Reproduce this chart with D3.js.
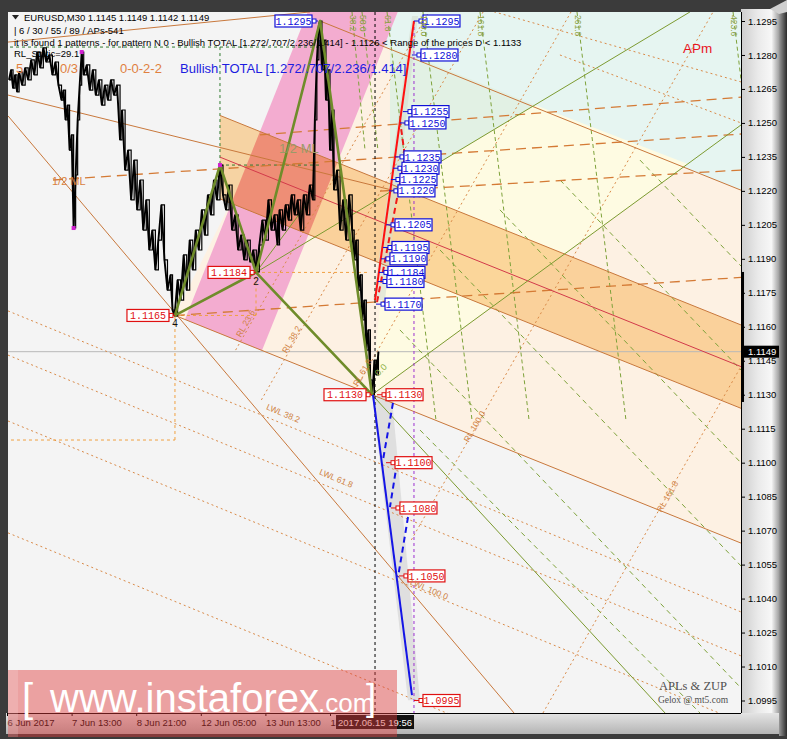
<!DOCTYPE html>
<html><head><meta charset="utf-8">
<script src="https://cdnjs.cloudflare.com/ajax/libs/d3/7.8.5/d3.min.js"></script>
<style>html,body{margin:0;padding:0;background:#3b3b3b;overflow:hidden}svg{display:block}</style>
</head><body>
<svg id="chart" width="787" height="739"></svg>
<script>
// ---------------- DATA ----------------
const timeTickBars = [0, 64, 128, 192, 256, 320];
const timeTickLabels = ["6 Jun 2017", "7 Jun 13:00", "8 Jun 21:00", "12 Jun 05:00", "13 Jun 13:00", "14 Jun 21:00"];
const priceTicks = [1.1295,1.1280,1.1265,1.1250,1.1235,1.1220,1.1205,1.1190,1.1175,1.1160,1.1145,1.1130,1.1115,1.1100,1.1085,1.1070,1.1055,1.1040,1.1025,1.1010,1.0995];
const lastPrice = 1.1149;
const cursorBar = 364.6;
const cursorTime = "2017.06.15 19:56";
const currentBar = [727.2, 1.11842, 1.11268];

// [bar, price]
const priceSeries = [
[2,1.12690],[4,1.12734],[6,1.12654],[8,1.12712],[10,1.12637],[12,1.12725],[15,1.12667],[18,1.12743],[21,1.12690],[24,1.12778],
[27,1.12712],[30,1.12813],[33,1.12743],[36,1.12831],[39,1.12769],[42,1.12800],[45,1.12712],[48,1.12769],[51,1.12667],[54,1.12601],
[56,1.12645],[58,1.12513],[60,1.12579],[62,1.12380],[64,1.12447],[66,1.12036],[68,1.12270],[70,1.12513],[72,1.12667],[74,1.12813],
[76,1.12712],[79,1.12756],[82,1.12645],[85,1.12734],[88,1.12623],[91,1.12690],[94,1.12579],[97,1.12667],[100,1.12601],[103,1.12690],
[106,1.12623],[109,1.12667],[112,1.12425],[114,1.12557],[117,1.12292],[120,1.12380],[123,1.12160],[126,1.12336],[129,1.12116],[132,1.12248],
[135,1.12027],[138,1.12160],[141,1.11939],[144,1.12027],[147,1.11851],[150,1.11983],[153,1.12138],[156,1.11895],[159,1.11762],[162,1.11829],
[164,1.11674],[166,1.11648],[169,1.11807],[172,1.11718],[175,1.11917],[178,1.11762],[181,1.11983],[184,1.11851],[187,1.12027],[190,1.11939],
[193,1.12116],[196,1.12005],[199,1.12182],[202,1.12094],[205,1.12248],[208,1.12160],[211,1.12314],[214,1.12182],[217,1.12116],[220,1.12226],
[223,1.12027],[226,1.12094],[229,1.11939],[232,1.12005],[235,1.11895],[238,1.11983],[241,1.11886],[244,1.11939],[247,1.11842],[250,1.11961],
[253,1.12071],[256,1.11983],[259,1.12160],[262,1.12027],[265,1.12094],[268,1.11961],[270,1.12116],[273,1.12027],[276,1.12138],[279,1.12071],
[282,1.12182],[285,1.12094],[288,1.12160],[291,1.12027],[294,1.12182],[297,1.12094],[300,1.12226],[303,1.12160],[305,1.12513],[307,1.12778],
[309,1.12932],[310,1.12950],[312,1.12734],[314,1.12866],[316,1.12601],[318,1.12734],[320,1.12380],[322,1.12557],[324,1.12204],[327,1.12292],
[330,1.12027],[333,1.12160],[336,1.11983],[339,1.12182],[342,1.12027],[344,1.11895],[346,1.11983],[348,1.11762],[350,1.11829],[352,1.11630],
[354,1.11718],[356,1.11497],[358,1.11586],[360,1.11365],[362,1.11300],[364,1.11453],[366,1.11387],[368,1.11490]
];

// pattern points 4,3,2,X,D
const patternPoints = [[166.4,1.1165],[211,1.12314],[246.7,1.1184],[310.2,1.1295],[361.6,1.1130]];
const patternEdges = [[0,1],[1,2],[2,0],[2,3],[3,4],[4,2]];
const pivotDots = [[66,1.12036],[74,1.12813],[211,1.12314]];

// fills [bar, price] polygons
const peachZone = [[166.4,1.1165],[310.2,1.1295],[727.2,1.12203],[727.2,1.10645]];
const cyanZone = [[310.2,1.1295],[310.2,1.1302],[727.2,1.1302],[727.2,1.12203]];
const yellowZone = [[361.6,1.1130],[674.6,1.12319],[523.1,1.12579],[379.4,1.12195]];
const mintZone = [[379.4,1.12195],[523.1,1.12579],[389.3,1.12818],[379.4,1.12835]];
const pinkZone = [[176.3,1.11632],[298.8,1.1300],[388,1.1300],[252.6,1.11495]];
const channelZone = [[211,1.12533],[727.2,1.11608],[727.2,1.1124],[211,1.12165]];
const blueShadow = [[361.6,1.1130],[381.4,1.11286],[409.1,1.09951],[397.3,1.09951]];
const redShadow = [[362.6,1.11718],[374.5,1.11718],[407.2,1.12972],[401.3,1.12972]];

// lines [bar1, price1, bar2, price2]
const forkLines = [
[166.4,1.1165,727.2,1.10645],
[310.2,1.1295,727.2,1.12203],
[211,1.12533,727.2,1.11608],
[211,1.12165,727.2,1.1124],
[1,1.12531,502.3,1.09895],
[1,1.12857,300.2,1.12990],
[1,1.12623,409.2,1.12173]
];
const medianLine = [[211,1.12349,727.2,1.11424]];
const halfLines = [
[45.6,1.12248,727.2,1.12451],
[166.4,1.1165,727.2,1.11818],
[369.5,1.12199,727.2,1.12292],
[250.6,1.12447,727.2,1.12614]
];
const warningLines = [
[1,1.1167,727.2,1.10341],
[1,1.11475,727.2,1.10147],
[1,1.11184,727.2,1.09855],
[1,1.10690,727.2,1.09361],
[458.7,1.13021,727.2,1.12681],
[547.8,1.1280,727.2,1.12500]
];
const reactionLines = [
[226.5,1.11497,417.8,1.12990],
[252.0,1.11277,471.7,1.12990],
[339.2,1.11277,558.8,1.12990],
[400.6,1.10659,699.5,1.12990],
[531.0,1.09895,927.9,1.12990]
];
const orangeBoxLines = [
[166.4,1.1110,166.4,1.1165],
[-2,1.1110,166.4,1.1110],
[246.7,1.1184,359.6,1.1184],
[246.7,1.1165,246.7,1.1184],
[166.4,1.1165,246.7,1.1165]
];
const greenBoxLines = [
[3,1.12835,310.2,1.12835],
[211,1.12835,211,1.12314],
[211,1.12314,310.2,1.12314]
];
const olivFanLines = [
[361.6,1.1130,727.2,1.12491],
[246.7,1.1184,676.6,1.1299],
[361.6,1.1130,651.9,1.09895],
[246.7,1.1184,300.0,1.12160]
];
const timeZoneLines = [
[341.8,1.1299,354.7,1.12380],
[351.7,1.1299,367.5,1.12380],
[376.5,1.1299,425.0,1.11188],
[412.1,1.1299,460.7,1.11188],
[468.6,1.1299,517.2,1.11188],
[564.7,1.1299,613.2,1.11188],
[719.3,1.1299,727.2,1.12690]
];
const greenFanDashed = [
[429.0,1.11939,727.2,1.10544],
[488.4,1.12116,727.2,1.10999],
[547.9,1.12248,727.2,1.11409],
[389.3,1.11586,727.2,1.10005],
[409.2,1.11144,686.5,1.09895],
[627.1,1.12336,727.2,1.11868]
];
const redTargetLine = [[364.6,1.11718,403.2,1.1295]];
const redTargetDashed = [[366.6,1.11709],[394.3,1.12350],[389.3,1.12513]];
const blueTargetLine = [[362.6,1.11299,401.2,1.09974]];
const blueTargetDashed = [
[382.4,1.11264,372.5,1.11012],
[386.4,1.10999,379.4,1.10804],
[397.3,1.10760,387.4,1.10495]
];

// price labels
const blueLabelPrices = [1.1295,1.1280,1.1255,1.1250,1.1235,1.1230,1.1225,1.1220,1.1205,1.1195,1.1190,1.1184,1.1180,1.1170];
const blueLabelBars   = [403.2,401.2,392.3,389.3,384.4,382.4,380.4,378.4,375.5,372.5,370.5,368.5,367.5,365.6];
const blueLeftLabelPrices = [1.1295];
const blueLeftLabelBars = [308.1];
const redLabelPrices = [1.1130,1.1100,1.1080,1.1050,1.0995];
const redLabelBars   = [366.6,375.5,380.4,388.3,403.2];
const redLeftLabelPrices = [1.1165,1.1184,1.1130];
const redLeftLabelBars   = [166.4,246.7,361.6];

// ---------------- DRAW ----------------
const svg = d3.select("#chart");
const P = {l:8, t:12, r:741, b:713};
const x = d3.scaleLinear().domain([0,320]).range([7,330]);
const y = d3.scaleLinear().domain([1.0995,1.1295]).range([700.5,21]);
const SANS = "'Liberation Sans', Arial, sans-serif";
const MONO = "'Liberation Mono', 'DejaVu Sans Mono', monospace";
const SERIF = "'Liberation Serif', 'DejaVu Serif', serif";

const defs = svg.append("defs");
function lg(id, x2, y2, stops){
  const gr = defs.append("linearGradient").attr("id",id).attr("x1",0).attr("y1",0).attr("x2",x2).attr("y2",y2);
  stops.forEach(s=>gr.append("stop").attr("offset",s[0]).attr("stop-color",s[1]));
}
lg("gRight",1,0,[[0,"#cdcdcd"],[0.45,"#eaeaea"],[0.8,"#f7f7f7"],[1,"#a0a0a0"]]);
lg("gBottom",0,1,[[0,"#e4e4e4"],[1,"#b4b4b4"]]);
lg("gEdge",1,0,[[0,"#9a9a9a"],[1,"#2a2a2a"]]);
defs.append("clipPath").attr("id","plotClip").append("rect")
  .attr("x",P.l).attr("y",P.t).attr("width",P.r-P.l).attr("height",P.b-P.t);
const ptsPath = pts => d3.line()(pts.map(p=>[x(p[0]),y(p[1])])) + "Z";
defs.append("clipPath").attr("id","pinkClip").append("path").attr("d", ptsPath(pinkZone));

// frame
svg.append("rect").attr("width",787).attr("height",739).attr("fill","#3b3b3b");
svg.append("rect").attr("x",741).attr("y",9).attr("width",38).attr("height",705).attr("fill","url(#gRight)");
svg.append("rect").attr("x",6).attr("y",713).attr("width",773).attr("height",21).attr("fill","url(#gBottom)");
svg.append("rect").attr("x",779).attr("y",6).attr("width",8).attr("height",730).attr("fill","url(#gEdge)");
svg.append("path").attr("d","M770,9 L787,0 L787,12 L779,14 Z").attr("fill","#cfcfcf");

const g = svg.append("g").attr("clip-path","url(#plotClip)");
g.append("rect").attr("x",P.l).attr("y",P.t).attr("width",P.r-P.l).attr("height",P.b-P.t).attr("fill","#f4f4f4");

function poly(pts, fill, op, parent){ (parent||g).append("path").attr("d", ptsPath(pts)).attr("fill",fill).attr("opacity", op==null?1:op); }
function segs(arr, stroke, w, dash){
  g.append("g").selectAll("line").data(arr).join("line")
    .attr("x1",d=>x(d[0])).attr("y1",d=>y(d[1])).attr("x2",d=>x(d[2])).attr("y2",d=>y(d[3]))
    .attr("stroke",stroke).attr("stroke-width",w).attr("stroke-dasharray",dash||null).attr("fill","none");
}

poly(peachZone,"#fdf1e3");
poly(cyanZone,"#e6f5f1");
poly(yellowZone,"#fefbe2");
poly(mintZone,"#e2f1e4");
poly(pinkZone,"#f3acd0");
poly(channelZone,"#f8b458",0.52);
const redOv = g.append("g").attr("clip-path","url(#pinkClip)");
poly(channelZone,"#e0483f",0.33,redOv);
poly(blueShadow,"#d6d6d6",0.7);
poly(redShadow,"#d4ddd0",0.6);

// current price line
g.append("line").attr("x1",P.l).attr("x2",P.r).attr("y1",y(lastPrice)).attr("y2",y(lastPrice)).attr("stroke","#b8b8b8").attr("stroke-width",1);

segs(warningLines,"#d98a48",1,"2,3");
segs(reactionLines,"#d98a48",1,"2,3");
segs(timeZoneLines,"#7ea23a",1,"4,3");
segs(greenFanDashed,"#7ea23a",1,"5,4");
segs(orangeBoxLines,"#f0a040",1,"3,3");
segs(greenBoxLines,"#2f7a2f",1,"3,3");
segs(halfLines,"#d47a35",1.3,"10,6");
segs(forkLines,"#c8783c",1);
segs(medianLine,"#d23a4a",1);
segs(olivFanLines,"#7c9a30",1);

// vertical cursor lines
g.append("line").attr("x1",x(cursorBar)).attr("x2",x(cursorBar)).attr("y1",P.t).attr("y2",P.b).attr("stroke","#000").attr("stroke-dasharray","3,3");
g.append("line").attr("x1",x(403.2)).attr("x2",x(403.2)).attr("y1",y(1.1295)).attr("y2",P.b).attr("stroke","#9b30d0").attr("stroke-dasharray","3,3");

// price series
g.append("path").attr("d", d3.line().x(d=>x(d[0])).y(d=>y(d[1]))(priceSeries))
  .attr("fill","none").attr("stroke","#000").attr("stroke-width",1.9).attr("stroke-linejoin","bevel");
g.append("path").attr("d", d3.line().curve(d3.curveStepAfter).x(d=>x(d[0])).y(d=>y(d[1]))(priceSeries))
  .attr("fill","none").attr("stroke","#000").attr("stroke-width",1.2);

// pattern
g.append("g").selectAll("line").data(patternEdges).join("line")
  .attr("x1",d=>x(patternPoints[d[0]][0])).attr("y1",d=>y(patternPoints[d[0]][1]))
  .attr("x2",d=>x(patternPoints[d[1]][0])).attr("y2",d=>y(patternPoints[d[1]][1]))
  .attr("stroke","#6f8c2a").attr("stroke-width",2.6).attr("stroke-linecap","round");
g.append("g").selectAll("rect").data(pivotDots).join("rect")
  .attr("x",d=>x(d[0])-2).attr("y",d=>y(d[1])-2).attr("width",4).attr("height",4).attr("fill","#d020d0");

// targets
segs(redTargetLine,"#ff1010",2);
g.append("path").attr("d", d3.line().x(d=>x(d[0])).y(d=>y(d[1]))(redTargetDashed))
  .attr("fill","none").attr("stroke","#f01818").attr("stroke-width",2).attr("stroke-dasharray","6,4");
segs(blueTargetLine,"#1414e6",2);
segs(blueTargetDashed,"#1414e6",2,"6,4");

// labels
function priceLabel(bar, price, color, side, bw){
  const ax = x(bar), ay = y(price), bh = 12;
  let bx, px1, px2, sq;
  if(side==="right"){ bx = ax+9; px1 = ax; px2 = bx; sq = bx-4; }
  else { bx = ax-6-bw; px1 = bx+bw; px2 = ax; sq = bx+bw; }
  g.append("line").attr("x1",px1).attr("x2",px2).attr("y1",ay).attr("y2",ay).attr("stroke",color).attr("stroke-width",1);
  g.append("rect").attr("x",sq).attr("y",ay-2).attr("width",4).attr("height",4).attr("fill","#fff").attr("stroke",color).attr("stroke-width",1);
  g.append("rect").attr("x",bx).attr("y",ay-6).attr("width",bw).attr("height",bh).attr("fill","#fff").attr("stroke",color).attr("stroke-width",1.2);
  g.append("text").attr("x",bx+bw/2).attr("y",ay+3.6).attr("text-anchor","middle")
    .attr("font-family",MONO).attr("font-size","10px").attr("fill",color).text(price.toFixed(4));
}
blueLabelPrices.forEach((p,i)=>priceLabel(blueLabelBars[i],p,"#1010d8","right",37));
blueLeftLabelPrices.forEach((p,i)=>priceLabel(blueLeftLabelBars[i],p,"#1010d8","left",37));
redLabelPrices.forEach((p,i)=>priceLabel(redLabelBars[i],p,"#e01010","right",37));
redLeftLabelPrices.forEach((p,i)=>priceLabel(redLeftLabelBars[i],p,"#e01010","left",42));

// annotation texts
function txt(s, tx, ty, size, color, opts){
  opts = opts||{};
  const t = g.append("text").attr("font-family",opts.font||SANS).attr("font-size",size+"px").attr("fill",color)
    .attr("text-anchor",opts.anchor||"start").text(s);
  if(opts.rot!=null) t.attr("transform",`translate(${tx},${ty}) rotate(${opts.rot})`);
  else t.attr("x",tx).attr("y",ty);
  return t;
}
txt("2", x(246.7), y(1.1184)+13, 10, "#111", {anchor:"middle"});
txt("4", x(166.4), y(1.1165)+12, 10, "#111", {anchor:"middle"});
txt("1/2 ML", 52, 185, 11, "#d88040");
txt("1/2 ML", 279, 153, 13, "#9a9a68");
txt("LWL 38.2", 282, 416, 8.5, "#cf7f40", {anchor:"middle", rot:23});
txt("LWL 61.8", 335, 481, 8.5, "#cf7f40", {anchor:"middle", rot:23});
txt("LWL 100.0", 428, 592, 8.5, "#cf7f40", {anchor:"middle", rot:23});
txt("RL 23.6", 248, 325, 8.5, "#d08040", {anchor:"middle", rot:-60});
txt("RL 38.2", 294, 341, 8.5, "#d08040", {anchor:"middle", rot:-60});
txt("RL 61.8", 365, 374, 8.5, "#d08040", {anchor:"middle", rot:-60});
txt("RL 100.0", 477, 428, 8.5, "#d08040", {anchor:"middle", rot:-60});
txt("RL 161.8", 670, 498, 8.5, "#d08040", {anchor:"middle", rot:-60});
txt("0.0", 383, 372, 9, "#8cb040", {anchor:"middle", rot:-45});
[["38.2",350],["50.0",360],["61.8",385],["100.0",421],["161.8",478],["261.8",575],["423.6",731]].forEach(d=>{
  txt(d[0], d[1], 15, 8.5, "#8aa040", {rot:90});
});
txt("APm", 683, 53, 13.5, "#e8141e");
txt("APLs & ZUP", 693, 690, 12.5, "#505050", {anchor:"middle", font:SERIF});
txt("Gelox @ mt5.com", 693, 703, 9.5, "#505050", {anchor:"middle", font:SERIF});

// current bar at right edge
svg.append("rect").attr("x",x(currentBar[0])).attr("y",y(currentBar[1])).attr("width",3)
  .attr("height",y(currentBar[2])-y(currentBar[1])).attr("fill","#000");

// axes
svg.append("line").attr("x1",P.r+0.5).attr("x2",P.r+0.5).attr("y1",P.t).attr("y2",P.b).attr("stroke","#000");
svg.append("line").attr("x1",P.l).attr("x2",P.r).attr("y1",P.b+0.5).attr("y2",P.b+0.5).attr("stroke","#000");
const ay = svg.append("g").attr("transform",`translate(${P.r},0)`)
  .call(d3.axisRight(y).tickValues(priceTicks).tickFormat(d3.format(".4f")).tickSize(4).tickPadding(3));
ay.select(".domain").remove();
ay.selectAll("text").attr("font-family",SANS).attr("font-size","9.5px").attr("fill","#000");
ay.selectAll("line").attr("stroke","#000");
const ax = svg.append("g").attr("transform",`translate(0,${P.b})`)
  .call(d3.axisBottom(x).tickValues(timeTickBars).tickFormat((d,i)=>timeTickLabels[i]).tickSize(3));
ax.select(".domain").remove();
ax.selectAll("text").attr("font-family",SANS).attr("font-size","9.5px").attr("fill","#000")
  .attr("text-anchor","start").attr("x",0).attr("y",6);
ax.selectAll("line").attr("stroke","#000");

// last price box
svg.append("rect").attr("x",742).attr("y",y(lastPrice)-6).attr("width",37).attr("height",12).attr("fill","#000");
svg.append("text").attr("x",748).attr("y",y(lastPrice)+3.5).attr("font-family",SANS).attr("font-size","9.5px").attr("fill","#fff").text(lastPrice.toFixed(4));
// cursor time box
svg.append("rect").attr("x",x(cursorBar)-39).attr("y",715).attr("width",78).attr("height",14).attr("fill","#111");
svg.append("text").attr("x",x(cursorBar)).attr("y",726).attr("text-anchor","middle").attr("font-family",SANS)
  .attr("font-size","9.5px").attr("fill","#fff").text(cursorTime);

// header
svg.append("path").attr("d","M12,15 L19,15 L15.5,19.5 Z").attr("fill","#222");
const hdr = [
  ["EURUSD,M30  1.1145 1.1149 1.1142 1.1149", 24, 21],
  ["| 6 / 30 / 55 / 89 / APs-541", 14, 34],
  ["it is found 1 patterns  -  for pattern N 0 - Bullish TOTAL [1.272/.707/2.236/1.414] - 1.1126 < Range of the prices D < 1.1133", 14, 46],
  ["RL_Static=29.1", 14, 57]
];
hdr.forEach(h=>svg.append("text").attr("x",h[1]).attr("y",h[2]).attr("font-family",SANS).attr("font-size","9.5px").attr("fill","#000").text(h[0]));
[["5",16],["0/3",60],["0-0-2-2",120]].forEach(d=>svg.append("text").attr("x",d[1]).attr("y",73).attr("font-family",SANS).attr("font-size","13px").attr("fill","#e0803f").text(d[0]));
svg.append("text").attr("x",180).attr("y",73).attr("font-family",SANS).attr("font-size","13px").attr("fill","#1c1ce0").text("Bullish TOTAL [1.272/.707/2.236/1.414]");

// watermark
svg.append("rect").attr("x",8).attr("y",670).attr("width",389).attr("height",67).attr("fill","rgba(225,60,60,0.45)");
svg.append("rect").attr("x",8).attr("y",670).attr("width",10).attr("height",67).attr("fill","rgba(255,255,255,0.15)");
const wm = svg.append("g").attr("fill","#fff").attr("font-family",SANS);
wm.append("text").attr("x",22).attr("y",712).attr("font-size","40px").attr("font-weight",300).text("[");
wm.append("text").attr("x",50).attr("y",712).attr("font-size","40px").text("www.instaforex");
wm.append("text").attr("x",318).attr("y",712).attr("font-size","26px").text(".com");
wm.append("text").attr("x",366).attr("y",710).attr("font-size","36px").attr("font-weight",300).text("]");
</script>
</body></html>
